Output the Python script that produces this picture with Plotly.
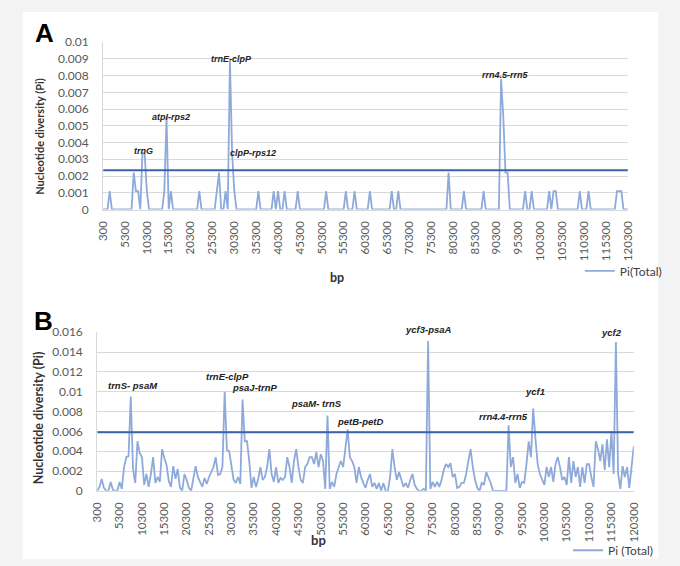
import plotly.graph_objects as go

# ---------------- data ----------------
step_start, step_size, n_points = 300, 500, 241
bp = [step_start + step_size * i for i in range(n_points)]

tick_bp = list(range(300, 120301, 5000))
tick_bp_text = [str(v) for v in tick_bp]

pi_a = [
    0, 0, 0, 0.0011, 0, 0, 0, 0, 0, 0,
    0, 0, 0, 0, 0.0022, 0.0011, 0.0011, 0, 0.0034, 0.0033,
    0.0011, 0, 0, 0, 0, 0, 0, 0, 0.0011, 0.0055,
    0, 0.0011, 0, 0, 0, 0, 0, 0, 0, 0,
    0, 0, 0, 0, 0.0011, 0, 0, 0, 0, 0,
    0, 0, 0.0011, 0.0022, 0, 0, 0.0011, 0, 0.0089, 0.0033,
    0.0011, 0, 0, 0, 0, 0, 0, 0, 0, 0,
    0, 0.0011, 0, 0, 0, 0, 0, 0, 0.0011, 0,
    0.0011, 0, 0, 0.0011, 0, 0, 0, 0, 0, 0.0011,
    0, 0, 0, 0, 0, 0, 0, 0, 0, 0,
    0, 0, 0.0011, 0, 0, 0, 0, 0, 0, 0,
    0, 0.0011, 0, 0, 0, 0.0011, 0, 0, 0, 0,
    0, 0, 0.0011, 0, 0, 0, 0, 0, 0, 0,
    0, 0, 0.0011, 0, 0, 0.0011, 0, 0, 0, 0,
    0, 0, 0, 0, 0, 0, 0, 0, 0, 0,
    0, 0, 0, 0, 0, 0, 0, 0, 0.0022, 0,
    0, 0, 0, 0, 0, 0.0011, 0, 0, 0, 0,
    0, 0, 0, 0, 0.0011, 0, 0, 0, 0, 0,
    0, 0, 0.0078, 0.0056, 0.0022, 0.0022, 0, 0, 0, 0,
    0, 0, 0, 0.0011, 0, 0, 0.0011, 0, 0, 0,
    0, 0, 0, 0, 0.0011, 0, 0.0011, 0.0011, 0, 0,
    0, 0, 0, 0, 0, 0, 0, 0, 0.0011, 0,
    0, 0, 0.0011, 0, 0, 0, 0, 0, 0, 0,
    0, 0, 0, 0, 0, 0.0011, 0.0011, 0.0011, 0, 0,
    0,
]

pi_b = [
    0, 0.0004, 0.0012, 0.0003, 0, 0, 0.0009, 0.0001, 0, 0,
    0.0009, 0.0002, 0.0024, 0.0034, 0.0035, 0.0095, 0.0022, 0.0008, 0.005, 0.0038,
    0.0034, 0.0006, 0.0017, 0.0004, 0.0017, 0.0034, 0.0008, 0.0014, 0.0009, 0.0042,
    0.0033, 0.0026, 0.001, 0.0004, 0.0025, 0.0012, 0.0022, 0.0003, 0, 0.0017,
    0.0011, 0.0003, 0, 0.0012, 0.0025, 0.0014, 0.0008, 0.0004, 0.0013, 0.0007,
    0.0014, 0.002, 0.0024, 0.0034, 0.0016, 0.0017, 0.0024, 0.01, 0.0041, 0.004,
    0.0027, 0.0011, 0.0008, 0.0014, 0.0007, 0.0092, 0.005, 0.005, 0.003, 0.0003,
    0.0014, 0.0004, 0.0012, 0.0024, 0.0011, 0.0014, 0.0024, 0.0042, 0.0017, 0.0009,
    0.0024, 0.0008, 0.0013, 0.0011, 0.0014, 0.0034, 0.0024, 0.0008, 0.003, 0.0042,
    0.0024, 0.0011, 0.0008, 0.0024, 0.0027, 0.0034, 0.0034, 0.0027, 0.0039, 0.0024,
    0.0037, 0.003, 0.0002, 0.0076, 0.0002, 0.0009, 0.0004, 0.0017, 0.0024, 0.003,
    0.0024, 0.0043, 0.0062, 0.0034, 0.003, 0.0024, 0.0008, 0.0024, 0.0014, 0.0008,
    0.0003, 0.0011, 0.0017, 0.0004, 0.0008, 0.0002, 0.0008, 0, 0.0008, 0,
    0, 0.0014, 0.0042, 0.0024, 0.0011, 0.0019, 0.0012, 0.0004, 0.0008, 0.0003,
    0.0011, 0.0017, 0.0006, 0.0002, 0, 0, 0.0002, 0, 0.0151, 0.0002,
    0.0009, 0.0004, 0.0009, 0.0004, 0.0011, 0.0021, 0.0027, 0.0024, 0.0028, 0.0014,
    0.0017, 0.0003, 0.0004, 0.0008, 0.0008, 0.0017, 0.003, 0.0042, 0.0024, 0.0011,
    0.0003, 0, 0.0008, 0.0006, 0.0019, 0.0014, 0.0008, 0, 0, 0,
    0, 0, 0, 0, 0.0066, 0.0024, 0.0034, 0.0008, 0.0017, 0.0003,
    0.0009, 0.0008, 0.0027, 0.005, 0.0034, 0.0083, 0.0053, 0.0027, 0.0017, 0.0012,
    0.0006, 0.0024, 0.0014, 0.0024, 0.0009, 0.0027, 0.0034, 0.0024, 0.0011, 0.0014,
    0.0006, 0.0034, 0.0008, 0.003, 0.0014, 0.0024, 0.0004, 0.0024, 0.0008, 0.0027,
    0.0027, 0.0014, 0.0004, 0.005, 0.0042, 0.003, 0.0047, 0.0021, 0.0052, 0.0024,
    0.006, 0.0017, 0.015, 0.0017, 0.0002, 0.0025, 0.0014, 0.0024, 0.0003, 0.0024,
    0.0045,
]

threshold_a = 0.00235
threshold_b = 0.0059

ytick_a = [0, 0.001, 0.002, 0.003, 0.004, 0.005, 0.006, 0.007, 0.008, 0.009, 0.01]
ytick_a_text = ["0", "0.001", "0.002", "0.003", "0.004", "0.005", "0.006", "0.007", "0.008", "0.009", "0.01"]
ytick_b = [0, 0.002, 0.004, 0.006, 0.008, 0.01, 0.012, 0.014, 0.016]
ytick_b_text = ["0", "0.002", "0.004", "0.006", "0.008", "0.01", "0.012", "0.014", "0.016"]

labels_a = ["trnE-clpP", "atpI-rps2", "trnG", "clpP-rps12", "rrn4.5-rrn5"]
labels_b = ["trnS- psaM", "trnE-clpP", "psaJ-trnP", "psaM- trnS", "petB-petD",
            "ycf3-psaA", "ycf2", "ycf1", "rrn4.4-rrn5"]

# ---------------- layout helpers (pixels -> paper) ----------------
W, H = 680, 566
def xp(px): return px / W
def yp(py): return 1 - py / H

label_pos_a = [(228.5, 52), (167.5, 111.7), (138.7, 146.7), (250.8, 149.3), (508.3, 69)]
label_pos_b = [(128.5, 388), (224.5, 379), (252.7, 390), (315.3, 406.7), (360.3, 424.3),
               (430, 330.7), (616.3, 333.5), (537.8, 394), (505.8, 419.3)]

SERIES = "#8eaadb"
THRESH = "#3a62ad"
GRID = "#d9d9d9"
TICKC = "#595959"
FONT = "Lato"

fig = go.Figure()

fig.add_trace(go.Scatter(x=bp, y=pi_a, mode="lines", name="Pi(Total)",
                         line=dict(color=SERIES, width=1.8), xaxis="x", yaxis="y",
                         legend="legend"))
fig.add_trace(go.Scatter(x=[bp[0], bp[-1]], y=[threshold_a, threshold_a], mode="lines",
                         line=dict(color=THRESH, width=2), xaxis="x", yaxis="y",
                         showlegend=False))
fig.add_trace(go.Scatter(x=bp, y=pi_b, mode="lines", name="Pi (Total)",
                         line=dict(color=SERIES, width=1.8), xaxis="x2", yaxis="y2",
                         legend="legend2"))
fig.add_trace(go.Scatter(x=[bp[0], bp[-1]], y=[threshold_b, threshold_b], mode="lines",
                         line=dict(color=THRESH, width=2), xaxis="x2", yaxis="y2",
                         showlegend=False))

xcommon = dict(tickmode="array", tickvals=tick_bp, ticktext=tick_bp_text, tickangle=-90,
               showgrid=False, zeroline=False, showline=True, linecolor=GRID, linewidth=1,
               ticks="", tickfont=dict(family=FONT, size=11.5, color=TICKC),
               ticklabelstandoff=6, fixedrange=True)
ycommon = dict(showgrid=True, gridcolor=GRID, gridwidth=1, zeroline=False,
               showline=True, linecolor=GRID, linewidth=1, ticks="",
               tickfont=dict(family=FONT, size=12, color=TICKC), ticklabelstandoff=11,
               fixedrange=True)

fig.update_layout(
    width=W, height=H, autosize=False,
    margin=dict(l=0, r=0, t=0, b=0),
    paper_bgcolor="#f3f3f3", plot_bgcolor="white",
    xaxis=dict(domain=[xp(98), xp(633)], range=[300, 120300], anchor="y", **xcommon),
    yaxis=dict(domain=[yp(207), yp(35)], range=[0, 0.01], anchor="x",
               tickmode="array", tickvals=ytick_a, ticktext=ytick_a_text, **ycommon),
    xaxis2=dict(domain=[xp(92), xp(639)], range=[300, 120300], anchor="y2", **xcommon),
    yaxis2=dict(domain=[yp(496), yp(333)], range=[0, 0.016], anchor="x2",
                tickmode="array", tickvals=ytick_b, ticktext=ytick_b_text, **ycommon),
    legend=dict(x=xp(584), y=yp(270), xanchor="left", yanchor="middle",
                bgcolor="rgba(0,0,0,0)", font=dict(family=FONT, size=12, color="#404040")),
    legend2=dict(x=xp(572), y=yp(557), xanchor="left", yanchor="middle",
                 bgcolor="rgba(0,0,0,0)", font=dict(family=FONT, size=12, color="#404040")),
    shapes=[dict(type="rect", xref="paper", yref="paper", x0=xp(16), x1=xp(664),
                 y0=0, y1=yp(4), fillcolor="white", line=dict(width=0), layer="below")],
    showlegend=True,
)

def note(text, px, py, size, family, color="#222222", angle=0):
    return dict(text=text, x=xp(px), y=yp(py), xref="paper", yref="paper",
                showarrow=False, xanchor="center", yanchor="middle", textangle=angle,
                font=dict(family=family, size=size, color=color))

ann = []
for name, (px, py) in zip(labels_a, label_pos_a):
    ann.append(note("<b><i>%s</i></b>" % name, px, py, 9, "Liberation Sans"))
for name, (px, py) in zip(labels_b, label_pos_b):
    ann.append(note("<b><i>%s</i></b>" % name, px, py, 9.5, "Liberation Sans"))

# panel letters
ann.append(note("<b>A</b>", 38, 26, 26, "Liberation Sans", "black"))
ann.append(note("<b>B</b>", 37, 322, 26, "Liberation Sans", "black"))
# axis titles
ann.append(note("<b>bp</b>", 336, 277, 12.5, FONT, "#333333"))
ann.append(note("<b>bp</b>", 318, 546, 13, FONT, "#333333"))
ann.append(note("<b>Nucleotide diversity (Pi)</b>", 33, 132, 11, FONT, "#333333", -90))
ann.append(note("<b>Nucleotide diversity (Pi)</b>", 32, 421, 12.5, FONT, "#333333", -90))

fig.update_layout(annotations=ann)

fig.write_html("out.html")
